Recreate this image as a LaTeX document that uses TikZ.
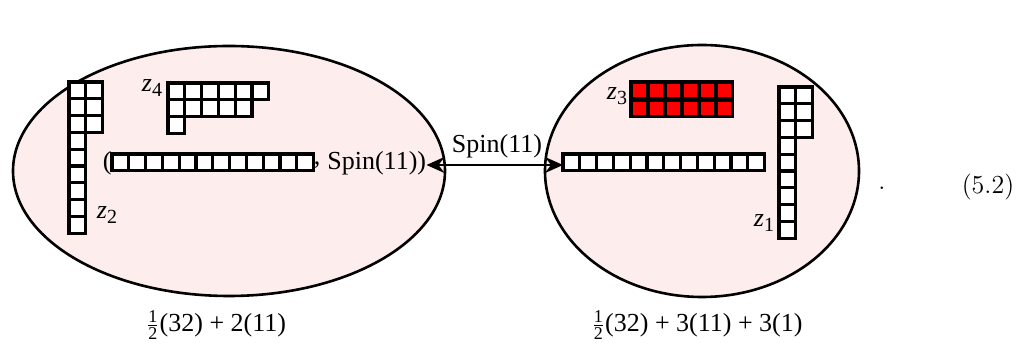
\documentclass[tikz,border=0pt]{standalone}
\usepackage{amsmath}
\usepackage{fontspec}
\newfontfamily\tms{Liberation Serif}
\usetikzlibrary{shapes.geometric,arrows.meta}
\definecolor{blobfill}{RGB}{254,237,237}
\newcommand{\ybox}[3]{\draw[ybx,fill=#3] (#1,#2) rectangle ++(16.8,16.8);}
\newcommand{\zlab}[1]{\textit{z}\raisebox{-0.45ex}{\fontsize{10}{12}\selectfont #1}}
\newcommand{\half}{$\frac{\mbox{\fontsize{9}{9}\selectfont\tms 1}}{\mbox{\fontsize{9}{9}\selectfont\tms 2}}$}
\begin{document}
\begin{tikzpicture}[x=0.5pt,y=-0.5pt,
  ybx/.style={line width=1.6pt},
  blob/.style={ellipse,draw,line width=1.3pt,fill=blobfill,inner sep=0pt},
  lbl/.style={font=\tms\fontsize{13}{15}\selectfont,inner sep=0pt},
  eqn/.style={font=\fontsize{13}{15}\selectfont,inner sep=0pt}]
\useasboundingbox (0,0) rectangle (1019,346);
% blobs
\node[blob,minimum width=216pt,minimum height=125pt] (L) at (229,171) {};
\node[blob,minimum width=157pt,minimum height=126pt] (R) at (702,171) {};
% left column (z2)
\foreach \i in {0,...,8}{\ybox{69}{82+\i*16.8}{white}}
\foreach \i in {0,1,2}{\ybox{85.8}{82+\i*16.8}{white}}
% z4
\foreach \j in {0,...,5}{\ybox{168+\j*16.8}{83}{white}}
\foreach \j in {0,...,4}{\ybox{168+\j*16.8}{99.8}{white}}
\ybox{168}{116.6}{white}
% left row
\foreach \j in {0,...,11}{\ybox{112+\j*16.8}{154}{white}}
% z3 red
\foreach \j in {0,...,5}{\ybox{631+\j*17}{82}{red}\ybox{631+\j*17}{100}{red}}
% right row
\foreach \j in {0,...,11}{\ybox{563+\j*16.8}{154}{white}}
\coordinate (rowR) at (563,165);
% z1
\foreach \i in {0,...,8}{\ybox{779}{87+\i*16.8}{white}}
\foreach \i in {0,1,2}{\ybox{795.8}{87+\i*16.8}{white}}
% labels
\node[lbl] (z4) at (152,88) {\zlab{4}};
\node[lbl] (z2) at (107,215) {\zlab{2}};
\node[lbl] (z3) at (617,96) {\zlab{3}};
\node[lbl] (z1) at (764,223) {\zlab{1}};
\node[lbl,anchor=east] (lp) at (112,163) {(};
\node[lbl] (cm) at (317,165) {,};
\node[lbl,anchor=west] (spL) at (327,163) {Spin(11))};
\draw[line width=1.2pt,{Stealth[length=9pt,width=8pt,inset=3pt]}-{Stealth[length=9pt,width=8pt,inset=3pt]}] (spL.east |- rowR) -- (rowR);
\node[lbl] (sp) at (497,146) {Spin(11)};
\node[lbl] (bl) at (216,325) {\half(32) + 2(11)};
\node[lbl] (br) at (697,325) {\half(32) + 3(11) + 3(1)};
\node[eqn] (dot) at (882,188) {.};
\node[eqn] (eq) at (988,187) {(5.2)};
\end{tikzpicture}
\end{document}
